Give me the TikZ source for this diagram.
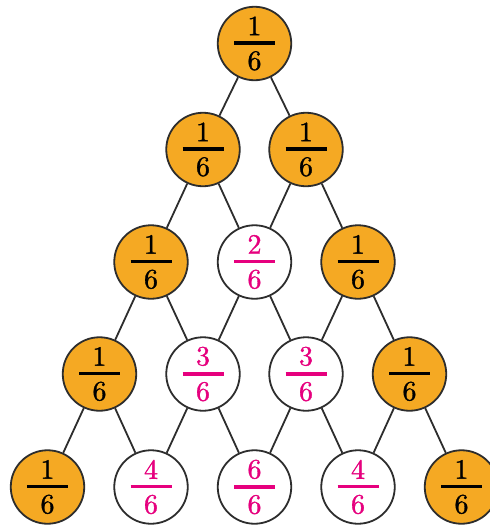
\documentclass[tikz,border=0pt]{standalone}
\usepackage{fontspec}
\usepackage{xcolor}
\newfontfamily\digitfont{lmroman10-regular.otf}[FakeBold=1.2]
\definecolor{nodeorange}{RGB}{245,169,35}
\definecolor{fracpink}{RGB}{230,0,126}
\definecolor{edgegray}{RGB}{45,45,45}
\newcommand\fracbox[3][black]{\vbox{\hsize=41pt\color{#1}\hbox to 41pt{\hss #2\hss}\kern6pt\hrule height 3.5pt\kern6.5pt\hbox to 41pt{\hss #3\hss}}}
\tikzset{
  cnode/.style={circle, draw=edgegray, line width=1.8pt, minimum size=73.5pt, inner sep=0pt,
    font=\digitfont\fontsize{28}{32}\selectfont},
  onode/.style={cnode, fill=nodeorange},
  wnode/.style={cnode, fill=white},
  link/.style={draw=edgegray, line width=1.8pt}
}
\begin{document}
\begin{tikzpicture}[x=1pt,y=-1pt]
\useasboundingbox (0,0) rectangle (490,525);
% row 1
\node[onode] (a1) at (254.5,43.5) {\fracbox{1}{6}};
% row 2
\node[onode] (b1) at (203,149.5) {\fracbox{1}{6}};
\node[onode] (b2) at (306,149.5) {\fracbox{1}{6}};
% row 3
\node[onode] (c1) at (151,262) {\fracbox{1}{6}};
\node[wnode] (c2) at (254.5,262) {\fracbox[fracpink]{2}{6}};
\node[onode] (c3) at (358,262) {\fracbox{1}{6}};
% row 4
\node[onode] (d1) at (99.5,374) {\fracbox{1}{6}};
\node[wnode] (d2) at (203,374) {\fracbox[fracpink]{3}{6}};
\node[wnode] (d3) at (306,374) {\fracbox[fracpink]{3}{6}};
\node[onode] (d4) at (409.5,374) {\fracbox{1}{6}};
% row 5
\node[onode] (e1) at (47.5,487) {\fracbox{1}{6}};
\node[wnode] (e2) at (151,487) {\fracbox[fracpink]{4}{6}};
\node[wnode] (e3) at (254.5,487) {\fracbox[fracpink]{6}{6}};
\node[wnode] (e4) at (358,487) {\fracbox[fracpink]{4}{6}};
\node[onode] (e5) at (461.5,487) {\fracbox{1}{6}};
% links
\draw[link] (a1) -- (b1);
\draw[link] (a1) -- (b2);
\draw[link] (b1) -- (c1);
\draw[link] (b1) -- (c2);
\draw[link] (b2) -- (c2);
\draw[link] (b2) -- (c3);
\draw[link] (c1) -- (d1);
\draw[link] (c1) -- (d2);
\draw[link] (c2) -- (d2);
\draw[link] (c2) -- (d3);
\draw[link] (c3) -- (d3);
\draw[link] (c3) -- (d4);
\draw[link] (d1) -- (e1);
\draw[link] (d1) -- (e2);
\draw[link] (d2) -- (e2);
\draw[link] (d2) -- (e3);
\draw[link] (d3) -- (e3);
\draw[link] (d3) -- (e4);
\draw[link] (d4) -- (e4);
\draw[link] (d4) -- (e5);
\end{tikzpicture}
\end{document}
